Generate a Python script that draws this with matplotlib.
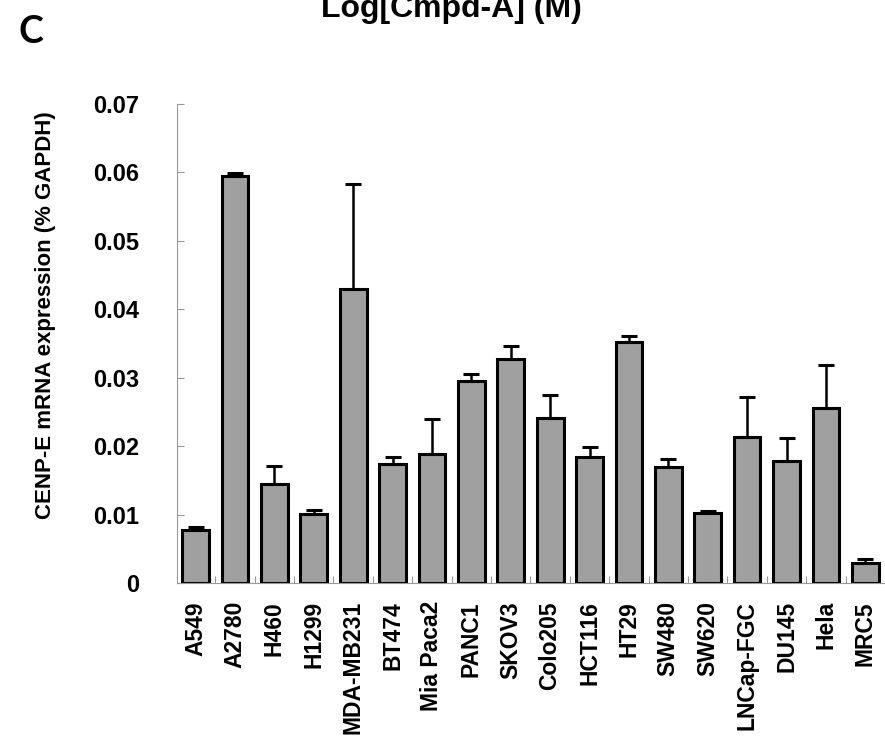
import numpy as np
import matplotlib.pyplot as plt

# cell lines and CENP-E expression (% GAPDH)
cell_lines = ['A549', 'A2780', 'H460', 'H1299', 'MDA-MB231', 'BT474', 'Mia Paca2',
              'PANC1', 'SKOV3', 'Colo205', 'HCT116', 'HT29', 'SW480', 'SW620',
              'LNCap-FGC', 'DU145', 'Hela', 'MRC5']
expression = [0.0078, 0.0595, 0.0145, 0.0101, 0.0430, 0.0174, 0.0188,
              0.0295, 0.0327, 0.0241, 0.0184, 0.0352, 0.0169, 0.0102,
              0.0213, 0.0179, 0.0256, 0.0029]
error_top = [0.0082, 0.0599, 0.0171, 0.0107, 0.0583, 0.0184, 0.0240,
             0.0305, 0.0346, 0.0275, 0.0199, 0.0361, 0.0181, 0.0105,
             0.0272, 0.0212, 0.0319, 0.0035]
yticks = [0, 0.01, 0.02, 0.03, 0.04, 0.05, 0.06, 0.07]
ytick_labels = ['0', '0.01', '0.02', '0.03', '0.04', '0.05', '0.06', '0.07']

plt.rcParams['font.family'] = ['Liberation Sans', 'DejaVu Sans']
plt.rcParams['font.weight'] = 'bold'


def main() -> None:
    x = np.arange(len(cell_lines))
    vals = np.array(expression)
    err = np.array(error_top) - vals

    fig = plt.figure(figsize=(8.85, 7.44), dpi=100)
    ax = fig.add_axes([0.2, 0.2164, 0.8, 0.6438])

    ax.bar(x, vals, width=0.68, color='#a0a0a0', edgecolor='black',
           linewidth=2.2, zorder=2)
    ax.errorbar(x, vals, yerr=[np.zeros_like(err), err], fmt='none',
                ecolor='black', elinewidth=1.8, capsize=6, capthick=2.2,
                zorder=3)

    ax.set_xlim(-0.47, len(cell_lines) - 0.5)
    ax.set_ylim(0, 0.07)
    ax.set_yticks(yticks)
    ax.set_yticklabels(ytick_labels)
    ax.set_xticks(x)
    ax.set_xticklabels(cell_lines, rotation=90)
    ax.set_xticks(x[:-1] + 0.5, minor=True)

    ax.tick_params(axis='y', direction='in', length=5, color='#999999',
                   width=0.8, pad=27, labelsize=17)
    ax.tick_params(axis='x', which='major', length=0, pad=13, labelsize=16.5)
    ax.tick_params(axis='x', which='minor', direction='in', length=5,
                   color='#999999', width=0.8)

    for side in ['top', 'right']:
        ax.spines[side].set_visible(False)
    for side in ['left', 'bottom']:
        ax.spines[side].set_color('#999999')
        ax.spines[side].set_linewidth(0.8)

    ax.set_ylabel('CENP-E mRNA expression (% GAPDH)', fontsize=16,
                  fontweight='bold')
    ax.yaxis.set_label_coords(-0.171, 0.56)

    # title is clipped at the top edge in the original figure
    fig.text(0.51, 1 - 17 / 744, 'Log[Cmpd-A] (M)', ha='center',
             va='baseline', fontsize=23, fontweight='bold')
    fig.text(0.035, 0.957, 'C', ha='center', va='center', fontsize=27,
             fontweight='bold', family=['Lato', 'DejaVu Sans'])

    fig.savefig('out.png', dpi=100)


if __name__ == '__main__':
    main()
